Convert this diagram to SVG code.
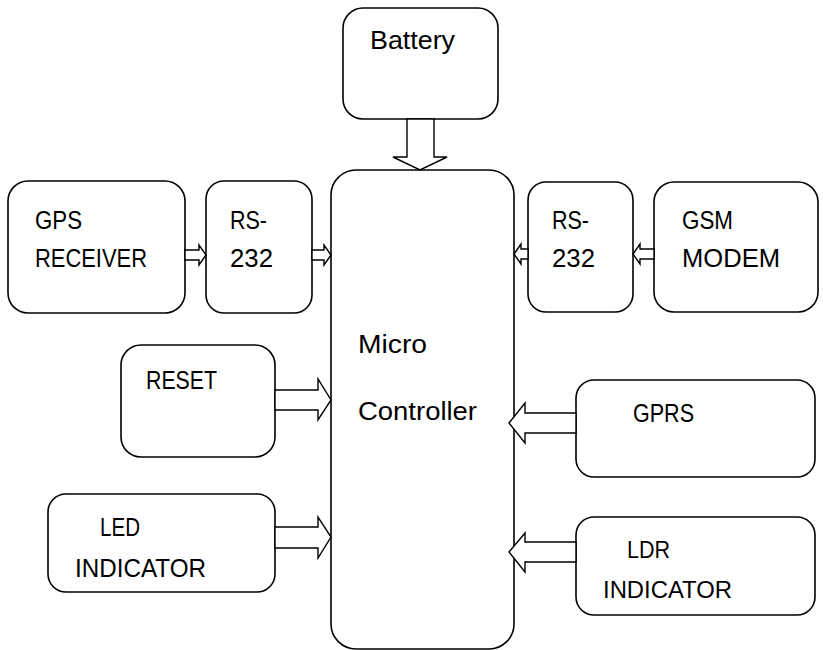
<svg xmlns="http://www.w3.org/2000/svg" width="823" height="650" viewBox="0 0 823 650">
<style>
.box{fill:#fff;stroke:#000;stroke-width:1.6}
.arr{fill:#fff;stroke:#000;stroke-width:1.4;stroke-linejoin:miter}
text{font-family:"Liberation Sans",Arial,sans-serif;font-size:25px;fill:#000}
.sm{font-size:23px}
</style>
<rect width="823" height="650" fill="#fff"/>
<g id="battery"><rect class="box" x="343" y="8" width="155" height="111" rx="20"/><text x="370" y="49" textLength="85" lengthAdjust="spacingAndGlyphs">Battery</text></g>
<g id="micro"><rect class="box" x="331" y="170" width="183" height="479" rx="25"/><text x="358" y="353" textLength="69" lengthAdjust="spacingAndGlyphs">Micro</text><text x="358" y="420" textLength="119" lengthAdjust="spacingAndGlyphs">Controller</text></g>
<g id="gps"><rect class="box" x="8" y="181" width="177" height="132" rx="20"/><text x="35" y="229" textLength="47" lengthAdjust="spacingAndGlyphs">GPS</text><text x="35" y="267" textLength="112" lengthAdjust="spacingAndGlyphs">RECEIVER</text></g>
<g id="rs232-left"><rect class="box" x="206" y="181" width="106" height="132" rx="18"/><text x="230" y="229" textLength="37" lengthAdjust="spacingAndGlyphs">RS-</text><text x="230" y="267" textLength="43" lengthAdjust="spacingAndGlyphs">232</text></g>
<g id="rs232-right"><rect class="box" x="528" y="182" width="105" height="130" rx="18"/><text x="552" y="229" textLength="37" lengthAdjust="spacingAndGlyphs">RS-</text><text x="552" y="267" textLength="43" lengthAdjust="spacingAndGlyphs">232</text></g>
<g id="gsm"><rect class="box" x="654" y="182" width="164" height="130" rx="20"/><text x="682" y="229" textLength="51" lengthAdjust="spacingAndGlyphs">GSM</text><text x="682" y="267" textLength="98" lengthAdjust="spacingAndGlyphs">MODEM</text></g>
<g id="reset"><rect class="box" x="121" y="345" width="154" height="112" rx="20"/><text x="146" y="389" textLength="71" lengthAdjust="spacingAndGlyphs">RESET</text></g>
<g id="led"><rect class="box" x="48" y="494" width="227" height="98" rx="18"/><text x="100" y="536" textLength="40" lengthAdjust="spacingAndGlyphs">LED</text><text x="75" y="577" textLength="131" lengthAdjust="spacingAndGlyphs">INDICATOR</text></g>
<g id="gprs"><rect class="box" x="576" y="380" width="239" height="97" rx="18"/><text x="633" y="422" textLength="61" lengthAdjust="spacingAndGlyphs">GPRS</text></g>
<g id="ldr"><rect class="box" x="576" y="517" width="239" height="98" rx="18"/><text class="sm" x="627" y="558" textLength="43" lengthAdjust="spacingAndGlyphs">LDR</text><text class="sm" x="603" y="598" textLength="129" lengthAdjust="spacingAndGlyphs">INDICATOR</text></g>
<g id="connectors">
<polygon class="arr" points="407,119 434,119 434,157 447,157 420,170 393,157 407,157"/>
<polygon class="arr" points="185,250 199,250 199,245 206,255 199,265 199,260 185,260"/>
<polygon class="arr" points="312,250 324,250 324,245 331,255 324,265 324,260 312,260"/>
<polygon class="arr" points="654,249 640,249 640,244 633,254 640,264 640,259 654,259"/>
<polygon class="arr" points="528,249 521,249 521,244 514,254 521,264 521,259 528,259"/>
<polygon class="arr" points="275,390 318,390 318,379 331,400 318,420 318,410 275,410"/>
<polygon class="arr" points="275,527 318,527 318,517 331,537 318,558 318,548 275,548"/>
<polygon class="arr" points="576,413 525,413 525,403 509,423 525,443 525,433 576,433"/>
<polygon class="arr" points="576,542 525,542 525,533 509,552 525,572 525,562 576,562"/>
</g>
</svg>
